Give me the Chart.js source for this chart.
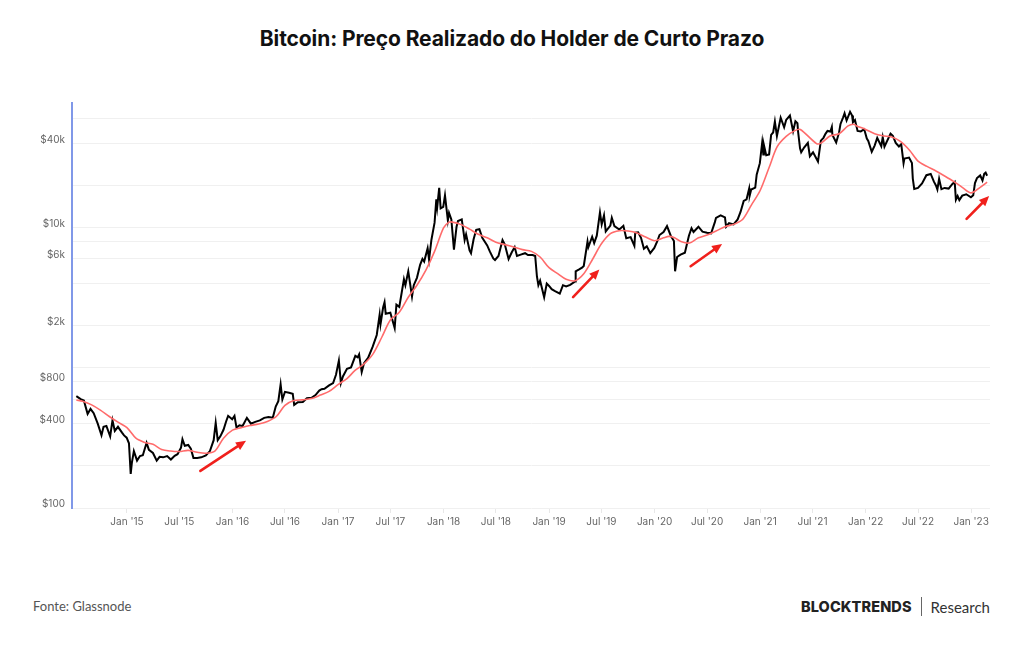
<!DOCTYPE html>
<html>
<head>
<meta charset="utf-8">
<script src="https://cdn.jsdelivr.net/npm/chart.js@4"></script>
<style>
  html, body { margin: 0; padding: 0; background: #fff; }
  body { width: 1024px; height: 645px; position: relative; overflow: hidden; font-family: Inter, sans-serif; }
  #title { position: absolute; top: 26px; left: 0; width: 1024px; text-align: center; font: 700 21px Inter, sans-serif; color: #111; letter-spacing: -0.1px; }
  #chart-box { position: absolute; left: 0; top: 90px; width: 1024px; height: 450px; }
  #source { position: absolute; left: 33px; top: 598px; font: 13px Lato, sans-serif; color: #555; }
  #brand { position: absolute; right: 34px; top: 597px; color: #222; display: flex; align-items: center; }
  #brand b { font: 800 14.5px Inter, sans-serif; letter-spacing: 0.1px; }
  #brand .sep { display: inline-block; width: 1px; height: 19px; background: #666; margin: 0 9px; }
  #brand span.r { font: 15px Lato, sans-serif; color: #333; }
</style>
</head>
<body>
<div id="title">Bitcoin: Preço Realizado do Holder de Curto Prazo</div>
<div id="chart-box"><canvas id="sth-chart"></canvas></div>
<div id="source">Fonte: Glassnode</div>
<div id="brand"><b>BLOCKTRENDS</b><span class="sep"></span><span class="r">Research</span></div>
<script>
// BTC price (black line), [date, USD]
const btcPrice = [
  ['2014-07-10', 630], ['2014-07-25', 600], ['2014-08-05', 585], ['2014-08-18', 470], ['2014-08-28', 510],
  ['2014-09-08', 475], ['2014-09-22', 400], ['2014-10-05', 330], ['2014-10-12', 380], ['2014-10-22', 385],
  ['2014-11-04', 325], ['2014-11-12', 423], ['2014-11-20', 355], ['2014-12-01', 380], ['2014-12-15', 345],
  ['2014-12-22', 330], ['2014-12-31', 318],
  ['2015-01-08', 290], ['2015-01-14', 175], ['2015-01-18', 210], ['2015-01-25', 255], ['2015-02-05', 218],
  ['2015-02-15', 235], ['2015-02-25', 238], ['2015-03-10', 292], ['2015-03-18', 260], ['2015-04-01', 247],
  ['2015-04-14', 218], ['2015-04-24', 232], ['2015-05-06', 230], ['2015-05-20', 235], ['2015-06-02', 222],
  ['2015-06-15', 236], ['2015-06-25', 242], ['2015-07-07', 270], ['2015-07-12', 310], ['2015-07-20', 278],
  ['2015-08-01', 282], ['2015-08-10', 265], ['2015-08-19', 228], ['2015-09-01', 228], ['2015-09-15', 230],
  ['2015-10-01', 237], ['2015-10-15', 255], ['2015-10-28', 305], ['2015-11-04', 405], ['2015-11-11', 305],
  ['2015-11-20', 325], ['2015-12-01', 362], ['2015-12-10', 415], ['2015-12-17', 455], ['2015-12-31', 430],
  ['2016-01-08', 455], ['2016-01-15', 375], ['2016-01-25', 390], ['2016-02-05', 385], ['2016-02-20', 440],
  ['2016-03-05', 400], ['2016-03-20', 412], ['2016-04-05', 422], ['2016-04-20', 440], ['2016-05-05', 447],
  ['2016-05-20', 442], ['2016-05-30', 530], ['2016-06-08', 580], ['2016-06-16', 765], ['2016-06-22', 595],
  ['2016-07-01', 675], ['2016-07-15', 665], ['2016-07-28', 655], ['2016-08-02', 545], ['2016-08-15', 570],
  ['2016-09-01', 572], ['2016-09-15', 607], ['2016-10-01', 613], ['2016-10-15', 640], ['2016-10-28', 690],
  ['2016-11-05', 705], ['2016-11-15', 710], ['2016-12-01', 750], ['2016-12-15', 780], ['2016-12-25', 895],
  ['2017-01-04', 1130], ['2017-01-11', 780], ['2017-01-18', 870], ['2017-02-01', 985], ['2017-02-15', 1010],
  ['2017-03-02', 1220], ['2017-03-10', 1190], ['2017-03-15', 1250], ['2017-03-24', 935], ['2017-04-01', 1080],
  ['2017-04-15', 1180], ['2017-05-01', 1420], ['2017-05-15', 1720], ['2017-05-25', 2400], ['2017-05-28', 2050],
  ['2017-06-06', 2700], ['2017-06-11', 2950], ['2017-06-15', 2440], ['2017-07-01', 2480], ['2017-07-16', 1930],
  ['2017-07-22', 2830], ['2017-08-01', 2730], ['2017-08-17', 4300], ['2017-08-22', 3900], ['2017-09-01', 4900],
  ['2017-09-14', 3240], ['2017-09-20', 3900], ['2017-10-01', 4400], ['2017-10-12', 5450], ['2017-10-20', 6000],
  ['2017-10-26', 5750], ['2017-11-07', 7150], ['2017-11-12', 5950], ['2017-11-20', 8200], ['2017-12-01', 10900],
  ['2017-12-07', 16000], ['2017-12-10', 14000], ['2017-12-17', 19300], ['2017-12-22', 13800], ['2017-12-31', 14150],
  ['2018-01-06', 17100], ['2018-01-16', 11300], ['2018-01-20', 12800], ['2018-01-28', 11500], ['2018-02-06', 7000],
  ['2018-02-15', 10200], ['2018-02-20', 11200], ['2018-03-05', 11500], ['2018-03-15', 8200], ['2018-03-20', 9000],
  ['2018-04-01', 6900], ['2018-04-06', 6600], ['2018-04-15', 8300], ['2018-04-24', 9700], ['2018-05-05', 9800],
  ['2018-05-15', 8500], ['2018-06-01', 7500], ['2018-06-10', 6800], ['2018-06-22', 6050], ['2018-06-28', 5900],
  ['2018-07-10', 6300], ['2018-07-24', 8200], ['2018-08-01', 7600], ['2018-08-14', 6000], ['2018-08-25', 6700],
  ['2018-09-04', 7300], ['2018-09-12', 6300], ['2018-09-25', 6450], ['2018-10-10', 6600], ['2018-10-20', 6400],
  ['2018-11-05', 6400], ['2018-11-14', 6300], ['2018-11-20', 4500], ['2018-11-25', 3900], ['2018-12-01', 4200],
  ['2018-12-15', 3200], ['2018-12-24', 4000],
  ['2019-01-01', 3850], ['2019-01-10', 3650], ['2019-01-20', 3550], ['2019-02-07', 3400], ['2019-02-18', 3900],
  ['2019-03-01', 3820], ['2019-03-15', 3920], ['2019-04-01', 4150], ['2019-04-03', 4900], ['2019-04-15', 5050],
  ['2019-04-25', 5200], ['2019-05-01', 5350], ['2019-05-14', 8000], ['2019-05-17', 7300], ['2019-05-30', 8650],
  ['2019-06-06', 7800], ['2019-06-15', 8800], ['2019-06-26', 12900], ['2019-07-02', 10600], ['2019-07-10', 12300],
  ['2019-07-16', 9450], ['2019-08-01', 10400], ['2019-08-06', 11800], ['2019-08-15', 10300], ['2019-09-01', 9750],
  ['2019-09-15', 10350], ['2019-09-25', 8450], ['2019-10-10', 8600], ['2019-10-23', 7450], ['2019-10-26', 9250],
  ['2019-11-05', 9300], ['2019-11-15', 8500], ['2019-11-25', 7100], ['2019-12-05', 7400], ['2019-12-17', 6600],
  ['2019-12-31', 7200],
  ['2020-01-10', 8000], ['2020-01-18', 8900], ['2020-02-01', 9350], ['2020-02-13', 10300], ['2020-02-26', 8800],
  ['2020-03-08', 8050], ['2020-03-12', 4900], ['2020-03-19', 6200], ['2020-03-31', 6450], ['2020-04-15', 6650],
  ['2020-04-29', 8800], ['2020-05-08', 9950], ['2020-05-15', 9350], ['2020-06-01', 10200], ['2020-06-15', 9400],
  ['2020-07-01', 9250], ['2020-07-15', 9150], ['2020-07-28', 11000], ['2020-08-01', 11800], ['2020-08-17', 12300],
  ['2020-09-01', 11900], ['2020-09-05', 10200], ['2020-09-15', 10800], ['2020-10-01', 10600], ['2020-10-15', 11500],
  ['2020-10-25', 13000], ['2020-11-05', 15600], ['2020-11-15', 16000], ['2020-11-24', 19100], ['2020-11-26', 17100],
  ['2020-12-01', 18800], ['2020-12-15', 19400], ['2020-12-20', 24000], ['2020-12-31', 29000],
  ['2021-01-08', 40600], ['2021-01-12', 33500], ['2021-01-14', 39100], ['2021-01-22', 33000], ['2021-02-01', 33500],
  ['2021-02-08', 46200], ['2021-02-15', 48000], ['2021-02-21', 57500], ['2021-02-28', 45200], ['2021-03-13', 61200],
  ['2021-03-25', 52300], ['2021-04-01', 59000], ['2021-04-14', 63500], ['2021-04-25', 49000], ['2021-05-03', 57800],
  ['2021-05-10', 56000], ['2021-05-12', 49200], ['2021-05-19', 37000], ['2021-05-23', 34700], ['2021-06-02', 37500],
  ['2021-06-15', 40500], ['2021-06-22', 32500], ['2021-07-03', 34700], ['2021-07-20', 29800], ['2021-07-30', 42000],
  ['2021-08-08', 44000], ['2021-08-15', 47000], ['2021-08-22', 49300], ['2021-09-01', 48800], ['2021-09-06', 52600],
  ['2021-09-08', 46100], ['2021-09-21', 40700], ['2021-10-01', 48100], ['2021-10-06', 55300], ['2021-10-15', 61600],
  ['2021-10-20', 65900], ['2021-10-27', 58500], ['2021-11-08', 67500], ['2021-11-15', 63500], ['2021-11-18', 56900],
  ['2021-11-25', 58900], ['2021-12-04', 49300], ['2021-12-15', 48900], ['2021-12-27', 50700],
  ['2022-01-05', 43500], ['2022-01-10', 41800], ['2022-01-22', 35000], ['2022-02-01', 38700], ['2022-02-10', 43900],
  ['2022-02-24', 38300], ['2022-03-01', 44400], ['2022-03-07', 38000], ['2022-03-28', 47100], ['2022-04-05', 45500],
  ['2022-04-15', 40500], ['2022-04-26', 38200], ['2022-05-04', 39700], ['2022-05-12', 29000], ['2022-05-15', 31300],
  ['2022-05-31', 31800], ['2022-06-10', 29100], ['2022-06-13', 22500], ['2022-06-18', 19000], ['2022-07-01', 19300],
  ['2022-07-15', 20800], ['2022-07-30', 23800], ['2022-08-14', 24300], ['2022-08-25', 21400], ['2022-09-01', 20100],
  ['2022-09-06', 18800], ['2022-09-12', 22400], ['2022-09-20', 18900], ['2022-10-01', 19300], ['2022-10-15', 19100],
  ['2022-10-28', 20600], ['2022-11-05', 21300], ['2022-11-09', 15900], ['2022-11-15', 16900], ['2022-11-21', 15800],
  ['2022-12-01', 17000], ['2022-12-15', 17400], ['2022-12-31', 16550],
  ['2023-01-08', 17100], ['2023-01-14', 20900], ['2023-01-21', 22700], ['2023-02-01', 23700], ['2023-02-09', 21800],
  ['2023-02-15', 24300], ['2023-02-20', 24800], ['2023-02-25', 23600]
];

// short-term holder realized price (red line), [date, USD]
const sthPrice = [
  ['2014-07-10', 590], ['2014-08-01', 578], ['2014-09-01', 545], ['2014-10-01', 500], ['2014-11-01', 450],
  ['2014-12-01', 410], ['2015-01-01', 375], ['2015-02-01', 315], ['2015-03-01', 295], ['2015-04-01', 285],
  ['2015-05-01', 262], ['2015-06-01', 255], ['2015-07-01', 253], ['2015-08-01', 258], ['2015-09-01', 250],
  ['2015-10-01', 246], ['2015-11-01', 255], ['2015-12-01', 315], ['2016-01-01', 360], ['2016-02-01', 375],
  ['2016-03-01', 388], ['2016-04-01', 398], ['2016-05-01', 415], ['2016-06-01', 450], ['2016-07-01', 540],
  ['2016-08-01', 585], ['2016-09-01', 592], ['2016-10-01', 605], ['2016-11-01', 640], ['2016-12-01', 680],
  ['2017-01-01', 760], ['2017-02-01', 840], ['2017-03-01', 960], ['2017-04-01', 1070], ['2017-05-01', 1250],
  ['2017-06-01', 1650], ['2017-07-01', 2200], ['2017-08-01', 2500], ['2017-09-01', 3200], ['2017-10-01', 3900],
  ['2017-11-01', 5000], ['2017-12-01', 6800], ['2018-01-01', 10000], ['2018-01-20', 11000], ['2018-02-01', 11000],
  ['2018-03-01', 10600], ['2018-04-01', 9800], ['2018-05-01', 9000], ['2018-06-01', 8500], ['2018-07-01', 7900],
  ['2018-08-01', 7600], ['2018-09-01', 7300], ['2018-10-01', 7000], ['2018-11-01', 6800], ['2018-12-01', 6200],
  ['2019-01-01', 5200], ['2019-02-01', 4700], ['2019-03-01', 4300], ['2019-04-01', 4200], ['2019-05-01', 4700],
  ['2019-06-01', 6000], ['2019-07-01', 7700], ['2019-08-01', 9100], ['2019-09-01', 9550], ['2019-10-01', 9500],
  ['2019-11-01', 9200], ['2019-12-01', 8600], ['2020-01-01', 8100], ['2020-02-01', 8500], ['2020-02-20', 8700],
  ['2020-03-10', 8500], ['2020-04-01', 8000], ['2020-05-01', 7800], ['2020-06-01', 8500], ['2020-07-01', 8900],
  ['2020-08-01', 9500], ['2020-09-01', 10200], ['2020-10-01', 10600], ['2020-11-01', 11500], ['2020-12-01', 14500],
  ['2021-01-01', 18500], ['2021-02-01', 27000], ['2021-03-01', 38000], ['2021-04-01', 45000], ['2021-05-01', 49500],
  ['2021-05-20', 50500], ['2021-07-15', 40000], ['2021-08-01', 40500], ['2021-09-01', 45500], ['2021-10-01', 47000],
  ['2021-11-01', 53500], ['2021-11-20', 55000], ['2021-12-01', 53500], ['2022-01-01', 50500], ['2022-02-01', 47000],
  ['2022-03-01', 45500], ['2022-04-01', 44600], ['2022-05-01', 41500], ['2022-06-01', 36000], ['2022-07-01', 30000],
  ['2022-08-01', 27500], ['2022-09-01', 25500], ['2022-10-01', 23500], ['2022-11-01', 21500], ['2022-12-01', 19500],
  ['2023-01-01', 17800], ['2023-02-01', 19500], ['2023-02-25', 21200]
];

// red arrows: [from date, from price, to date, to price]
const trendArrows = [
  ['2015-09-12', 184, '2016-02-17', 302],
  ['2019-03-25', 3210, '2019-06-24', 5050],
  ['2020-05-05', 5330, '2020-08-22', 7680],
  ['2022-12-16', 11600, '2023-03-04', 16900]
];

const yGridValues = [100, 200, 400, 600, 800, 1000, 2000, 4000, 6000, 8000, 10000, 20000, 40000, 60000];
const yLabelValues = [100, 400, 800, 2000, 6000, 10000, 40000];
const yLabelTexts = ['$100', '$400', '$800', '$2k', '$6k', '$10k', '$40k'];

const xTickDates = ['2015-01-01', '2015-07-01', '2016-01-01', '2016-07-01', '2017-01-01', '2017-07-01',
  '2018-01-01', '2018-07-01', '2019-01-01', '2019-07-01', '2020-01-01', '2020-07-01',
  '2021-01-01', '2021-07-01', '2022-01-01', '2022-07-01', '2023-01-01'];
const xTickLabels = ["Jan '15", "Jul '15", "Jan '16", "Jul '16", "Jan '17", "Jul '17",
  "Jan '18", "Jul '18", "Jan '19", "Jul '19", "Jan '20", "Jul '20",
  "Jan '21", "Jul '21", "Jan '22", "Jul '22", "Jan '23"];

// date string -> decimal year
function toYear(s) {
  const d = Date.parse(s + 'T00:00:00Z');
  const y = Number(s.slice(0, 4));
  const start = Date.UTC(y, 0, 1), end = Date.UTC(y + 1, 0, 1);
  return y + (d - start) / (end - start);
}

const arrowPlugin = {
  id: 'trendArrows',
  afterDatasetsDraw(chart) {
    const ctx = chart.ctx;
    const xs = chart.scales.x, ys = chart.scales.y;
    ctx.save();
    ctx.strokeStyle = '#f0201c';
    ctx.fillStyle = '#f0201c';
    ctx.lineWidth = 2.6;
    ctx.lineCap = 'round';
    trendArrows.forEach(a => {
      const x1 = xs.getPixelForValue(toYear(a[0])), y1 = ys.getPixelForValue(a[1]);
      const x2 = xs.getPixelForValue(toYear(a[2])), y2 = ys.getPixelForValue(a[3]);
      const ang = Math.atan2(y2 - y1, x2 - x1);
      const head = 11;
      const bx = x2 - head * 0.8 * Math.cos(ang), by = y2 - head * 0.8 * Math.sin(ang);
      ctx.beginPath();
      ctx.moveTo(x1, y1);
      ctx.lineTo(bx, by);
      ctx.stroke();
      ctx.beginPath();
      ctx.moveTo(x2, y2);
      ctx.lineTo(x2 - head * Math.cos(ang - 0.42), y2 - head * Math.sin(ang - 0.42));
      ctx.lineTo(x2 - head * Math.cos(ang + 0.42), y2 - head * Math.sin(ang + 0.42));
      ctx.closePath();
      ctx.fill();
    });
    ctx.restore();
  }
};

const ctx = document.getElementById('sth-chart').getContext('2d');
window.sthChart = new Chart(ctx, {
  type: 'line',
  data: {
    datasets: [
      {
        label: 'Preço Realizado STH',
        data: sthPrice.map(p => ({ x: toYear(p[0]), y: p[1] })),
        borderColor: '#ff6b6b',
        borderWidth: 1.6,
        pointRadius: 0,
        tension: 0.3,
        order: 1
      },
      {
        label: 'Preço BTC',
        data: btcPrice.map(p => ({ x: toYear(p[0]), y: p[1] })),
        borderColor: '#000',
        borderWidth: 2,
        pointRadius: 0,
        tension: 0,
        order: 2
      }
    ]
  },
  options: {
    responsive: true,
    maintainAspectRatio: false,
    animation: false,
    layout: { padding: { left: 0, right: 34, top: 11, bottom: 0 } },
    plugins: {
      legend: { display: false },
      tooltip: { enabled: false }
    },
    scales: {
      x: {
        type: 'linear',
        min: toYear('2014-06-25'),
        max: toYear('2023-03-07'),
        afterBuildTicks: s => { s.ticks = xTickDates.map(d => ({ value: toYear(d) })); },
        afterFit: s => { s.height = 32; },
        grid: { drawOnChartArea: false, tickLength: 5, color: '#e8e8e8' },
        border: { display: false },
        ticks: {
          autoSkip: false,
          maxRotation: 0,
          padding: 3,
          color: '#666',
          font: { family: 'Inter', size: 10 },
          callback: (v, i) => xTickLabels[i]
        }
      },
      y: {
        type: 'logarithmic',
        min: 100,
        max: 78000,
        afterBuildTicks: s => { s.ticks = yGridValues.map(v => ({ value: v })); },
        afterFit: s => { s.width = 72; },
        grid: { color: '#f0f0f0', drawTicks: false },
        border: { display: true, color: '#8098e8', width: 2 },
        ticks: {
          autoSkip: false,
          padding: 7,
          labelOffset: -4,
          color: '#666',
          font: { family: 'Inter', size: 10 },
          callback: v => {
            const k = yLabelValues.indexOf(v);
            return k >= 0 ? yLabelTexts[k] : '';
          }
        }
      }
    }
  },
  plugins: [arrowPlugin]
});
</script>
</body>
</html>
